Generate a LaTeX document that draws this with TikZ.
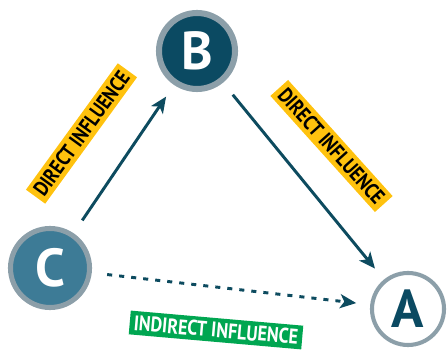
\documentclass[tikz,border=0pt]{standalone}
\usepackage{fontspec}
\setmainfont{PT Sans}
\newfontfamily\tagfont[FakeStretch=0.85]{PT Sans}
\usetikzlibrary{arrows.meta,positioning}

\begin{document}
\begin{tikzpicture}
    [x=0.025cm, y=-0.025cm,
    % Styles
    factor/.style={circle, inner sep=0pt, font=\fontsize{38}{38}\selectfont\bfseries},
    influence/.style={line width=2.1pt, draw=arrowcolor, shorten <=11pt, shorten >=10pt,
      -{Stealth[length=11.5pt, width=10pt, inset=3pt]}},
    tag/.style={inner xsep=3pt, inner ysep=3pt, font=\tagfont\fontsize{15}{15}\selectfont\bfseries}]

    % Colors
    \definecolor{bcolor}{HTML}{0B4A62}
    \definecolor{ccolor}{HTML}{3D7B96}
    \definecolor{ringcolor}{HTML}{8C9FA9}
    \definecolor{arrowcolor}{HTML}{0D4B5F}
    \definecolor{directcolor}{HTML}{FFC20E}
    \definecolor{indirectcolor}{HTML}{00A651}

    % Frame
    \useasboundingbox (0,0) rectangle (447,352);

    % Factors
    \node[factor, minimum size=1.9cm, fill=bcolor, draw=ringcolor, line width=4.3pt,
      text=white] (B) at (197,51) {B};
    \node[factor, minimum size=1.975cm, fill=ccolor, draw=ringcolor, line width=3.6pt,
      text=white] (C) at (50,268) {C};
    \node[factor, minimum size=1.8cm, fill=white, draw=ringcolor, line width=2.9pt,
      text=bcolor] (A) at (408,309) {A};

    % Influences
    \draw[influence] (C) -- (B);
    \draw[influence] (B) -- (A);
    \draw[influence, dash pattern=on 3.6pt off 5pt] (C) -- (A);

    % Tags
    \node[tag, fill=directcolor, rotate=54] (cb) at (81.5,133.5) {DIRECT INFLUENCE};
    \node[tag, fill=directcolor, rotate=-48] (ba) at (331.5,146) {DIRECT INFLUENCE};
    \node[tag, fill=indirectcolor, text=white, rotate=-5] (ca) at (216,330) {INDIRECT INFLUENCE};
\end{tikzpicture}
\end{document}
